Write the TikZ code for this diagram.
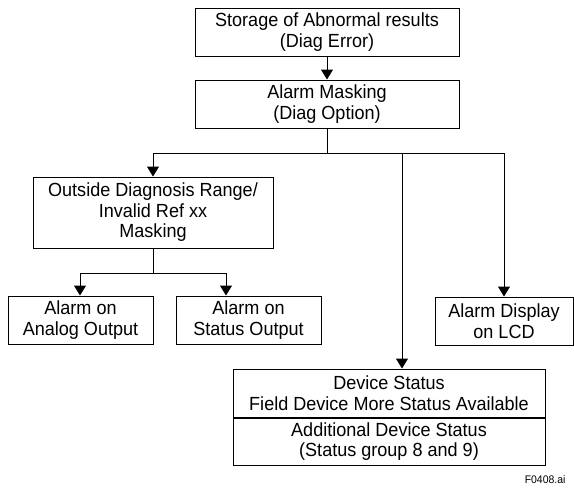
\documentclass[tikz,border=0pt]{standalone}
\usepackage{fontspec}
\setmainfont[FakeStretch=0.95]{Liberation Sans}
\usetikzlibrary{arrows.meta,positioning}

\begin{document}
\begin{tikzpicture}[
  x=1pt, y=-1pt,
  font=\fontsize{19}{20.5}\selectfont,
  box/.style={draw, line width=1pt, inner sep=0pt, align=center,
              minimum height=48pt},
  flow/.style={line width=1pt, -{Triangle[length=10pt,width=12pt]}}
]
\useasboundingbox (0,0) rectangle (574,488);

%% --- top chain ---
\node[box, minimum width=264pt] (store) at (327,32)
  {Storage of Abnormal results\\(Diag Error)};
\node[box, minimum width=264pt] (mask) at (327,104)
  {Alarm Masking\\(Diag Option)};
\draw[flow] (store) -- (mask);

%% --- branch points ---
\coordinate (jl) at (153,153);
\coordinate (jm) at (402,153);
\coordinate (jr) at (504,153);
\coordinate (kl) at (80,273);
\coordinate (kr) at (226,273);

%% --- left: range masking ---
\node[box, minimum width=240pt, minimum height=71pt] (range) at (153,212.5)
  {Outside Diagnosis Range/\\Invalid Ref xx\\Masking};
\node[box, minimum width=145pt] (analog) at (80.5,320)
  {Alarm on\\Analog Output};
\node[box, minimum width=145pt] (statout) at (248.5,320)
  {Alarm on\\Status Output};

%% --- right: display and device status ---
\node[box, minimum width=138pt] (lcd) at (504,321)
  {Alarm Display\\on LCD};
\node[box, minimum width=312pt] (dev) at (389,393)
  {Device Status\\Field Device More Status Available};
\node[box, minimum width=312pt, minimum height=47pt, below=0pt of dev] (devx)
  {Additional Device Status\\(Status group 8 and 9)};

\node[anchor=east, font=\fontsize{11}{13}\selectfont] (fig) at (569,480)
  {F0408.ai};

%% --- connectors ---
\draw[flow] (mask.south) |- (jl) -- (range);
\draw[flow] (mask.south |- jl) -| (lcd);
\draw[flow] (jm) -- (jm |- dev.north);
\draw[flow] (range.south) |- (kl) -- (kl |- analog.north);
\draw[flow] (range.south |- kl) -- (kr) -- (kr |- statout.north);
\end{tikzpicture}
\end{document}
